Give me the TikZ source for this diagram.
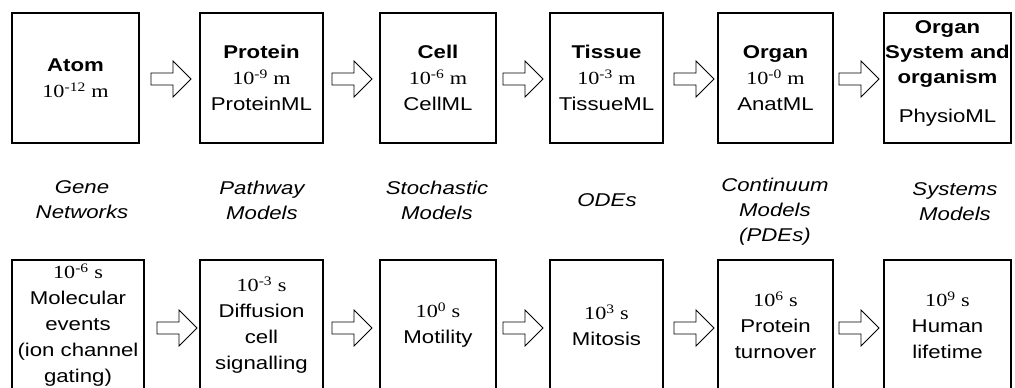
\documentclass[tikz,border=0pt]{standalone}
\usepackage{fontspec}
\setmainfont{Liberation Sans}[FakeStretch=1.2]
\newfontfamily\tnr{Liberation Serif}[FakeStretch=1.2]
\usetikzlibrary{calc}
\newcommand\pw[2]{{\tnr 10\textsuperscript{#1} #2}}
\begin{document}
\begin{tikzpicture}[x=1pt,y=-1pt,
  box/.style={draw,line width=1.2pt,inner sep=0pt,align=center,minimum height=130pt,
    font=\fontsize{18.5}{26}\selectfont},
  blk/.style={draw,line width=0.9pt,fill=white,line join=miter},
  lbl/.style={align=center,inner sep=0pt,font=\fontsize{18.5}{25}\selectfont\itshape},
  blockarr/.pic={\draw[blk] (-20,-6) -- (2,-6) -- (2,-18) -- (20,0) -- (2,18) -- (2,6) -- (-20,6) -- cycle;}]
\useasboundingbox (0,0) rectangle (1015,388);
% top row
\node[box,minimum width=127pt] (t1) at (75.5,78) {{\bfseries Atom}\\\pw{-12}{m}};
\node[box,minimum width=123pt] (t2) at (261.5,78) {{\bfseries Protein}\\\pw{-9}{m}\\ProteinML};
\node[box,minimum width=116pt] (t3) at (438,78) {{\bfseries Cell}\\\pw{-6}{m}\\CellML};
\node[box,minimum width=113pt] (t4) at (606.5,78) {{\bfseries Tissue}\\\pw{-3}{m}\\TissueML};
\node[box,minimum width=115pt] (t5) at (775.5,78) {{\bfseries Organ}\\\pw{-0}{m}\\AnatML};
\node[box,minimum width=127pt] (t6) at (947.5,78) {};
\node[align=center,inner sep=0pt,font=\fontsize{18.5}{25}\selectfont] (t6txt) at ($(t6.center)+(0,-5)$)
  {{\bfseries Organ}\\{\bfseries System and}\\{\bfseries organism}\\[14pt]PhysioML};
% middle labels
\node[lbl] (m1) at (82,200) {Gene\\Networks};
\node[lbl] (m2) at (262,200) {Pathway\\Models};
\node[lbl] (m3) at (437,200) {Stochastic\\Models};
\node[lbl] (m4) at (607,200) {ODEs};
\node[lbl] (m5) at (775,212) {Continuum\\Models\\(PDEs)};
\node[lbl] (m6) at (955,202) {Systems\\Models};
% bottom row
\node[box,minimum width=132pt] (b1) at (78,325) {\pw{-6}{s}\\Molecular\\events\\(ion channel\\gating)};
\node[box,minimum width=123pt] (b2) at (261.5,325) {\pw{-3}{s}\\Diffusion\\cell\\signalling};
\node[box,minimum width=116pt] (b3) at (438,325) {\pw{0}{s}\\Motility};
\node[box,minimum width=113pt] (b4) at (606.5,325) {\pw{3}{s}\\Mitosis};
\node[box,minimum width=115pt] (b5) at (775.5,325) {\pw{6}{s}\\Protein\\turnover};
\node[box,minimum width=127pt] (b6) at (947.5,325) {\pw{9}{s}\\Human\\lifetime};
% block arrows
\pic at (171,79) {blockarr};
\pic at (352,79) {blockarr};
\pic at (523,79) {blockarr};
\pic at (694,79) {blockarr};
\pic at (859,79) {blockarr};
\pic at (177,328) {blockarr};
\pic at (352,328) {blockarr};
\pic at (523,328) {blockarr};
\pic at (694,328) {blockarr};
\pic at (859,328) {blockarr};
\end{tikzpicture}
\end{document}
